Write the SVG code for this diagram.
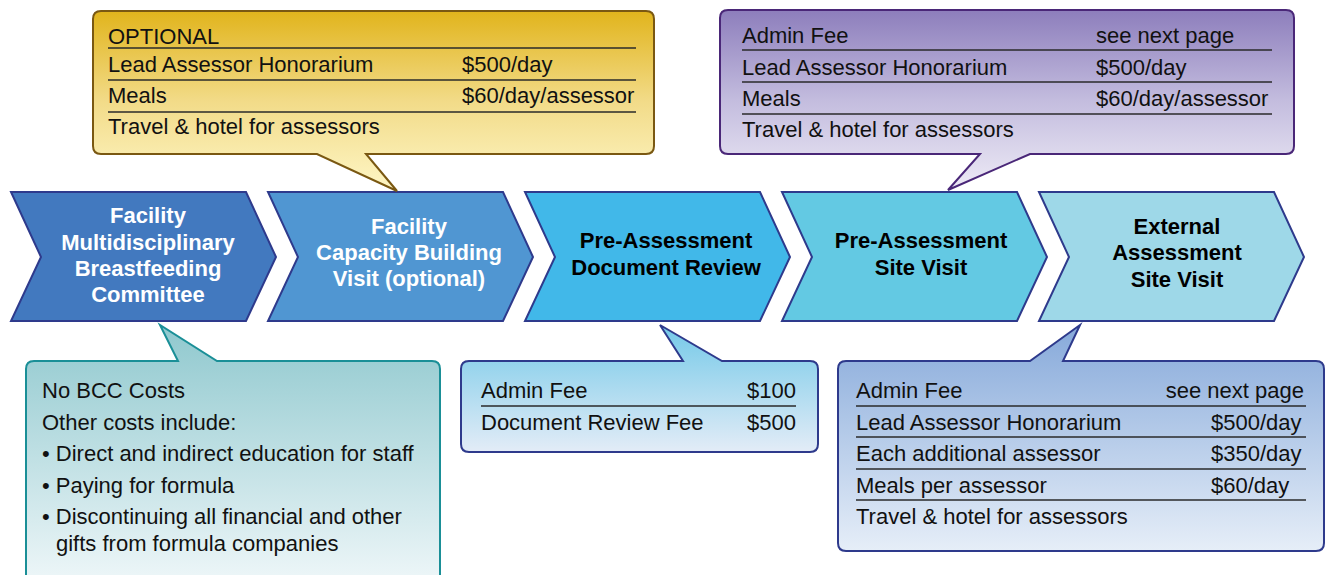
<svg xmlns="http://www.w3.org/2000/svg" width="1329" height="575" viewBox="0 0 1329 575">
  <defs>
    <linearGradient id="gGold" x1="0" y1="0" x2="0" y2="1">
      <stop offset="0" stop-color="#E1B41C"/>
      <stop offset="0.5" stop-color="#F2DB88"/>
      <stop offset="1" stop-color="#FEF6C6"/>
    </linearGradient>
    <linearGradient id="gPurple" x1="0" y1="0" x2="0" y2="1">
      <stop offset="0" stop-color="#8D7EBC"/>
      <stop offset="0.5" stop-color="#C3BCDE"/>
      <stop offset="1" stop-color="#EEEBF6"/>
    </linearGradient>
    <linearGradient id="gTeal" gradientUnits="userSpaceOnUse" x1="0" y1="325" x2="0" y2="580">
      <stop offset="0" stop-color="#8FC8CE"/>
      <stop offset="1" stop-color="#EDF6F8"/>
    </linearGradient>
    <linearGradient id="gSky" gradientUnits="userSpaceOnUse" x1="0" y1="325" x2="0" y2="452">
      <stop offset="0" stop-color="#74C9E8"/>
      <stop offset="1" stop-color="#E3ECF7"/>
    </linearGradient>
    <linearGradient id="gBlue" gradientUnits="userSpaceOnUse" x1="0" y1="325" x2="0" y2="551">
      <stop offset="0" stop-color="#86A9DA"/>
      <stop offset="1" stop-color="#E6EEF8"/>
    </linearGradient>
  </defs>
  <style>
    .chev { stroke: #2E3A8C; stroke-width: 2; stroke-linejoin: miter; }
    .lblW { font-family: "Liberation Sans", Arial, sans-serif; font-size: 22px; font-weight: bold; fill: #FFFFFF; text-anchor: middle; }
    .lblB { font-family: "Liberation Sans", Arial, sans-serif; font-size: 22px; font-weight: bold; fill: #000000; text-anchor: middle; }
    .txt { font-family: "Liberation Sans", Arial, sans-serif; font-size: 22px; fill: #111111; }
    .end { text-anchor: end; }
    .rule { stroke: #2A2A2A; stroke-width: 1.4; }
    .call { stroke-width: 2; stroke-linejoin: miter; }
  </style>

  <!-- process chevrons -->
  <g id="step1">
    <path class="chev" fill="#4279BF" d="M11,192 H246 L276,257 L246,321 H11 L41,257 Z"/>
    <text class="lblW" x="148" y="223">Facility</text>
    <text class="lblW" x="148" y="249.5">Multidisciplinary</text>
    <text class="lblW" x="148" y="276">Breastfeeding</text>
    <text class="lblW" x="148" y="302">Committee</text>
  </g>
  <g id="step2">
    <path class="chev" fill="#5096D2" d="M268,192 H503 L533,257 L503,321 H268 L298,257 Z"/>
    <text class="lblW" x="409" y="234">Facility</text>
    <text class="lblW" x="409" y="260">Capacity Building</text>
    <text class="lblW" x="409" y="286">Visit (optional)</text>
  </g>
  <g id="step3">
    <path class="chev" fill="#41B8E9" d="M525,192 H760 L790,257 L760,321 H525 L555,257 Z"/>
    <text class="lblB" x="666" y="248">Pre-Assessment</text>
    <text class="lblB" x="666" y="275">Document Review</text>
  </g>
  <g id="step4">
    <path class="chev" fill="#63C9E3" d="M782,192 H1017 L1047,257 L1017,321 H782 L812,257 Z"/>
    <text class="lblB" x="921" y="248">Pre-Assessment</text>
    <text class="lblB" x="921" y="275">Site Visit</text>
  </g>
  <g id="step5">
    <path class="chev" fill="#9ED8E8" d="M1039,192 H1274 L1304,257 L1274,321 H1039 L1069,257 Z"/>
    <text class="lblB" x="1177" y="234">External</text>
    <text class="lblB" x="1177" y="260">Assessment</text>
    <text class="lblB" x="1177" y="287">Site Visit</text>
  </g>

  <!-- cost callouts; each callout's tail points at its step -->
  <g id="costCapacityVisit">
    <path class="call" fill="url(#gGold)" stroke="#7A5812" d="M101,11 H646 Q654,11 654,19 V146 Q654,154 646,154 H366 L397,191 L317,154 H101 Q93,154 93,146 V19 Q93,11 101,11 Z"/>
    <text class="txt" x="108" y="44">OPTIONAL</text>
    <line class="rule" x1="108" y1="48" x2="636" y2="48"/>
    <text class="txt" x="108" y="72">Lead Assessor Honorarium</text>
    <text class="txt" x="462" y="72">$500/day</text>
    <line class="rule" x1="108" y1="80" x2="636" y2="80"/>
    <text class="txt" x="108" y="103">Meals</text>
    <text class="txt" x="462" y="103">$60/day/assessor</text>
    <line class="rule" x1="108" y1="112" x2="636" y2="112"/>
    <text class="txt" x="108" y="134">Travel &amp; hotel for assessors</text>
  </g>

  <g id="costPreSiteVisit">
    <path class="call" fill="url(#gPurple)" stroke="#4A2778" d="M728,10 H1286 Q1294,10 1294,18 V146 Q1294,154 1286,154 H1030 L948,190 L980,154 H728 Q720,154 720,146 V18 Q720,10 728,10 Z"/>
    <text class="txt" x="742" y="43">Admin Fee</text>
    <text class="txt" x="1096" y="43">see next page</text>
    <line class="rule" x1="742" y1="50" x2="1272" y2="50"/>
    <text class="txt" x="742" y="75">Lead Assessor Honorarium</text>
    <text class="txt" x="1096" y="75">$500/day</text>
    <line class="rule" x1="742" y1="82" x2="1272" y2="82"/>
    <text class="txt" x="742" y="106">Meals</text>
    <text class="txt" x="1096" y="106">$60/day/assessor</text>
    <line class="rule" x1="742" y1="114" x2="1272" y2="114"/>
    <text class="txt" x="742" y="137">Travel &amp; hotel for assessors</text>
  </g>

  <g id="costCommittee">
    <path class="call" fill="url(#gTeal)" stroke="#1A8F97" d="M34,361 H178 L160,325 L217,361 H432 Q440,361 440,369 V600 H26 V369 Q26,361 34,361 Z"/>
    <text class="txt" x="42" y="398">No BCC Costs</text>
    <text class="txt" x="42" y="430">Other costs include:</text>
    <text class="txt" x="42" y="461">• Direct and indirect education for staff</text>
    <text class="txt" x="42" y="493">• Paying for formula</text>
    <text class="txt" x="42" y="524">• Discontinuing all financial and other</text>
    <text class="txt" x="56" y="551">gifts from formula companies</text>
  </g>

  <g id="costDocReview">
    <path class="call" fill="url(#gSky)" stroke="#2E3A8C" d="M469,361 H683 L660,325 L722,361 H810 Q818,361 818,369 V444 Q818,452 810,452 H469 Q461,452 461,444 V369 Q461,361 469,361 Z"/>
    <text class="txt" x="481" y="398">Admin Fee</text>
    <text class="txt end" x="796" y="398">$100</text>
    <line class="rule" x1="481" y1="406" x2="796" y2="406"/>
    <text class="txt" x="481" y="430">Document Review Fee</text>
    <text class="txt end" x="796" y="430">$500</text>
  </g>

  <g id="costExternalVisit">
    <path class="call" fill="url(#gBlue)" stroke="#2E3A8C" d="M846,361 H1030 L1080,325 L1063,361 H1316 Q1324,361 1324,369 V543 Q1324,551 1316,551 H846 Q838,551 838,543 V369 Q838,361 846,361 Z"/>
    <text class="txt" x="856" y="398">Admin Fee</text>
    <text class="txt end" x="1304" y="398">see next page</text>
    <line class="rule" x1="856" y1="406" x2="1306" y2="406"/>
    <text class="txt" x="856" y="430">Lead Assessor Honorarium</text>
    <text class="txt" x="1211" y="430">$500/day</text>
    <line class="rule" x1="856" y1="437" x2="1306" y2="437"/>
    <text class="txt" x="856" y="461">Each additional assessor</text>
    <text class="txt" x="1211" y="461">$350/day</text>
    <line class="rule" x1="856" y1="469" x2="1306" y2="469"/>
    <text class="txt" x="856" y="493">Meals per assessor</text>
    <text class="txt" x="1211" y="493">$60/day</text>
    <line class="rule" x1="856" y1="500" x2="1306" y2="500"/>
    <text class="txt" x="856" y="524">Travel &amp; hotel for assessors</text>
  </g>
</svg>
